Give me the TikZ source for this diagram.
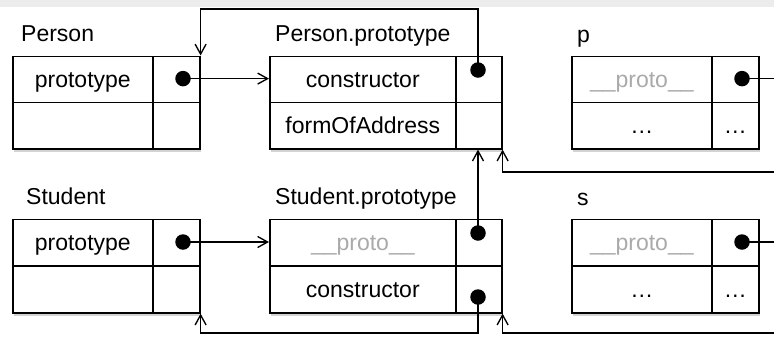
\documentclass[tikz,border=0pt]{standalone}
\usepackage{fontspec}
\setmainfont{Liberation Sans}
\usetikzlibrary{arrows.meta,shadows}
\definecolor{band}{RGB}{236,236,236}
\definecolor{protogray}{RGB}{170,170,170}
\begin{document}
\begin{tikzpicture}[x=1pt,y=-1pt,
  txt/.style={font=\fontsize{23}{27}\selectfont},
  box/.style={draw, line width=1.6pt, fill=white, inner sep=0pt, anchor=north west,
    drop shadow={shadow xshift=1.5pt, shadow yshift=-3pt, opacity=0.35}},
  cell/.style={draw, line width=1.6pt, inner sep=0pt, anchor=north west,
    text height=18pt, text depth=2pt, minimum height=46.25pt, txt},
  wide/.style={cell, minimum width=140pt},
  wider/.style={cell, minimum width=186pt},
  narrow/.style={cell, minimum width=47pt},
  narrower/.style={cell, minimum width=46pt},
  lab/.style={anchor=base west, inner sep=0pt, txt},
  dot/.style={circle, fill=black, inner sep=0pt, minimum size=15.5pt},
  link/.style={line width=1.35pt},
  arr/.style={link, -{Straight Barb[length=10pt,width=11pt,line width=1.35pt]}},
  gr/.style={text=protogray}
]
\useasboundingbox (0,0) rectangle (774,338);
\clip (0,0) rectangle (774,338);
\fill[band] (0,0) rectangle (774,7);

% labels
\node[lab] (lperson) at (21,41.7) {Person};
\node[lab] (lpp) at (275,41.7) {Person.prototype};
\node[lab] (lp) at (577,42) {p};
\node[lab] (lstudent) at (26,204) {Student};
\node[lab] (lsp) at (275,204) {Student.prototype};
\node[lab] (ls) at (577,205) {s};

% Person
\node[box, minimum width=187pt, minimum height=92.5pt] (person) at (12,55.5) {};
\node[wide] (person1) at (12,55.5) {prototype};
\node[narrow] (person1v) at (152,55.5) {};
\node[wide] (person2) at (12,101.75) {};
\node[narrow] (person2v) at (152,101.75) {};

% Person.prototype
\node[box, minimum width=232pt, minimum height=92.5pt] (pp) at (269,55.5) {};
\node[wider] (pp1) at (269,55.5) {constructor};
\node[narrower] (pp1v) at (455,55.5) {};
\node[wider] (pp2) at (269,101.75) {formOfAddress};
\node[narrower] (pp2v) at (455,101.75) {};

% p
\node[box, minimum width=187pt, minimum height=92.5pt] (p) at (571,55.5) {};
\node[wide, gr] (p1) at (571,55.5) {\_\_proto\_\_};
\node[narrow] (p1v) at (711,55.5) {};
\node[wide] (p2) at (571,101.75) {…};
\node[narrow] (p2v) at (711,101.75) {…};

% Student
\node[box, minimum width=187pt, minimum height=93.5pt] (student) at (12,218.5) {};
\node[wide, minimum height=46.75pt] (student1) at (12,218.5) {prototype};
\node[narrow, minimum height=46.75pt] (student1v) at (152,218.5) {};
\node[wide, minimum height=46.75pt] (student2) at (12,265.25) {};
\node[narrow, minimum height=46.75pt] (student2v) at (152,265.25) {};

% Student.prototype
\node[box, minimum width=232pt, minimum height=93.5pt] (sp) at (269,218.5) {};
\node[wider, gr, minimum height=46.75pt] (sp1) at (269,218.5) {\_\_proto\_\_};
\node[narrower, minimum height=46.75pt] (sp1v) at (455,218.5) {};
\node[wider, minimum height=46.75pt] (sp2) at (269,265.25) {constructor};
\node[narrower, minimum height=46.75pt] (sp2v) at (455,265.25) {};

% s
\node[box, minimum width=187pt, minimum height=93.5pt] (s) at (571,218.5) {};
\node[wide, gr, minimum height=46.75pt] (s1) at (571,218.5) {\_\_proto\_\_};
\node[narrow, minimum height=46.75pt] (s1v) at (711,218.5) {};
\node[wide, minimum height=46.75pt] (s2) at (571,265.25) {…};
\node[narrow, minimum height=46.75pt] (s2v) at (711,265.25) {…};

% dots
\node[dot] (d1) at (183,78.6) {};
\node[dot] (d2) at (478,70) {};
\node[dot] (d3) at (742,78.6) {};
\node[dot] (d4) at (183,242) {};
\node[dot] (d5) at (478,233) {};
\node[dot] (d6) at (478,297) {};
\node[dot] (d7) at (742,242) {};

% helper coordinates
\coordinate (topline) at (0,9);
\coordinate (midline) at (0,172);
\coordinate (botline) at (0,333);
\coordinate (offr) at (795,0);

% connectors
\draw[arr] (d1.center) -- (d1.center -| pp1.west);
\draw[arr] (d4.center) -- (d4.center -| sp1.west);
\draw[arr] (d2.center) -- (d2.center |- topline) -| (person.north east);
\draw[arr] (d5.center) -- (d5.center |- pp.south);
\draw[arr] (d6.center) -- (d6.center |- botline) -| (student.south east);
\draw[arr] (d3.center) -- (d3.center -| offr) -- (offr |- midline) -| (pp.south east);
\draw[arr] (d7.center) -- (d7.center -| offr) -- (offr |- botline) -| (sp.south east);
\end{tikzpicture}
\end{document}
